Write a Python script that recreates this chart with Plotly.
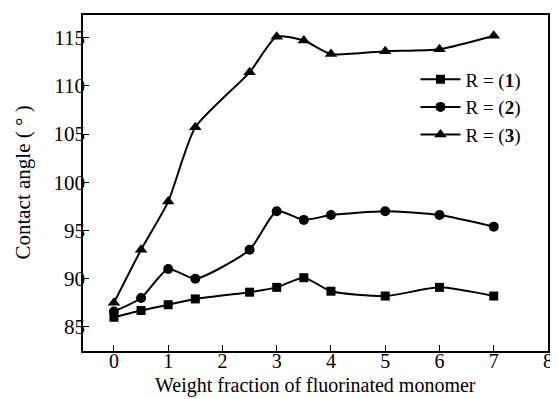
import plotly.graph_objects as go

x_vals = [0, 0.5, 1, 1.5, 2.5, 3, 3.5, 4, 5, 6, 7]
r1 = [86.0, 86.7, 87.3, 87.9, 88.6, 89.1, 90.1, 88.7, 88.2, 89.1, 88.2]
r2 = [86.6, 88.0, 91.0, 90.0, 93.0, 97.0, 96.1, 96.6, 97.0, 96.6, 95.4]
r3 = [87.5, 93.0, 98.0, 105.7, 111.4, 115.1, 114.7, 113.3, 113.6, 113.8, 115.2]
names = ["R = (<b>1</b>)", "R = (<b>2</b>)", "R = (<b>3</b>)"]
symbols = ["square", "circle", "triangle-up"]
sizes = [9, 10, 11]

fig = go.Figure()
for ys, nm, sym, sz in zip([r1, r2, r3], names, symbols, sizes):
    fig.add_trace(go.Scatter(
        x=x_vals, y=ys, name=nm, mode="lines+markers",
        line=dict(color="black", width=2, shape="spline", smoothing=0.6),
        marker=dict(symbol=sym, size=sz, color="black"),
    ))

font = "Liberation Serif, Times New Roman, serif"
fig.update_layout(
    width=550, height=391,
    margin=dict(l=75, r=7, t=5, b=48),
    paper_bgcolor="white", plot_bgcolor="white",
    font=dict(family=font, size=20, color="black"),
    showlegend=True,
    legend=dict(x=0.715, y=0.865, xanchor="left", yanchor="top",
                bgcolor="rgba(0,0,0,0)", font=dict(size=19),
                itemwidth=40, tracegroupgap=0),
    xaxis=dict(range=[-0.57, 8.0], tickvals=[0, 1, 2, 3, 4, 5, 6, 7, 8],
               ticks="inside", ticklen=6, tickcolor="black",
               showline=True, linecolor="black", linewidth=1.5, mirror=True,
               showgrid=False, zeroline=False, tickfont=dict(size=20),
               ticklabelstandoff=-9),
    yaxis=dict(range=[82.5, 117.35], tickvals=[85, 90, 95, 100, 105, 110, 115],
               ticks="inside", ticklen=6, tickcolor="black",
               showline=True, linecolor="black", linewidth=1.5, mirror=True,
               showgrid=False, zeroline=False, tickfont=dict(size=21),
               ticklabelstandoff=-8),
    annotations=[
        dict(text="Weight fraction of fluorinated monomer", xref="paper", yref="paper",
             x=0.5, y=-0.104, xanchor="center", yanchor="middle", showarrow=False,
             font=dict(size=20)),
        dict(text="Contact angle ( ° )", xref="paper", yref="paper",
             x=-0.13, y=0.5, xanchor="center", yanchor="middle", showarrow=False,
             textangle=-90, font=dict(size=21)),
    ],
)
fig.write_html("out.html")
